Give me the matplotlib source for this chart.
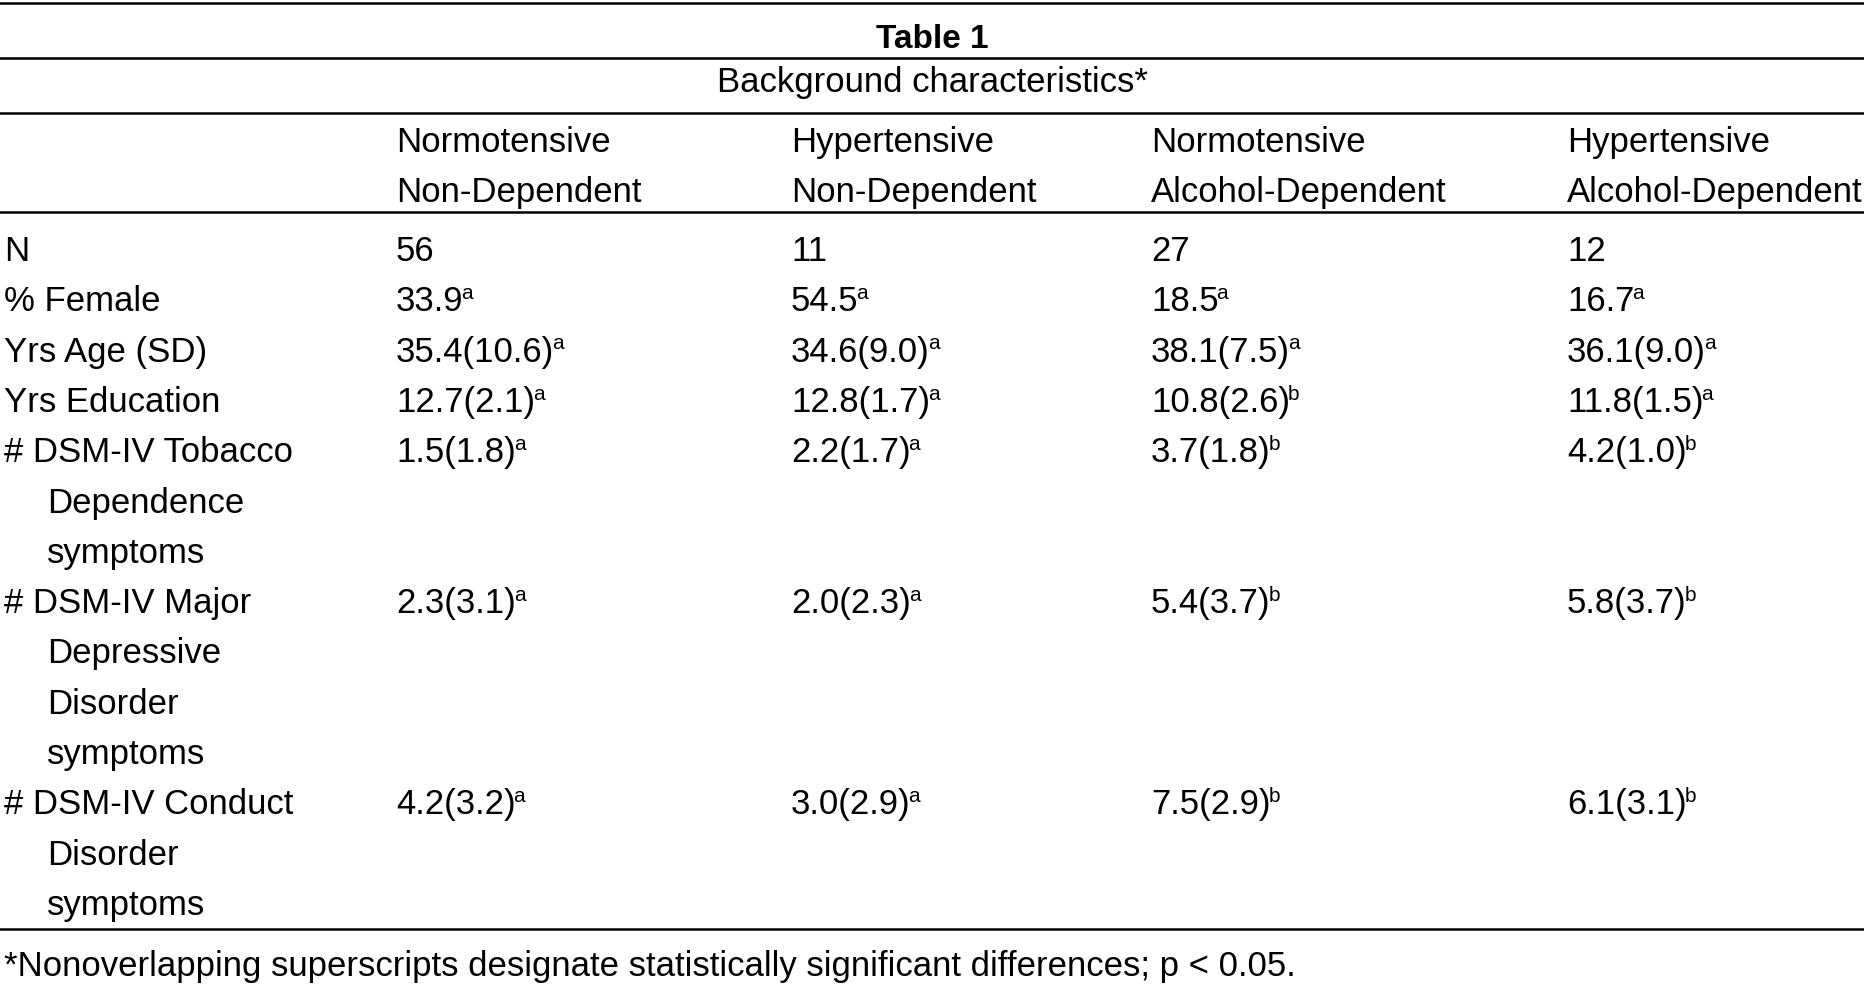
import matplotlib
matplotlib.use('Agg')
import matplotlib.pyplot as plt

plt.rcParams['font.family'] = ['Liberation Sans', 'DejaVu Sans']

# table content
title = 'Table 1'
subtitle = 'Background characteristics*'
head_top = ['Normotensive', 'Hypertensive', 'Normotensive', 'Hypertensive']
head_bottom = ['Non-Dependent', 'Non-Dependent', 'Alcohol-Dependent', 'Alcohol-Dependent']

row_labels = [['N'],
              ['% Female'],
              ['Yrs Age (SD)'],
              ['Yrs Education'],
              ['# DSM-IV Tobacco', 'Dependence', 'symptoms'],
              ['# DSM-IV Major', 'Depressive', 'Disorder', 'symptoms'],
              ['# DSM-IV Conduct', 'Disorder', 'symptoms']]

n_group = [56, 11, 27, 12]
female_pct = [33.9, 54.5, 18.5, 16.7]
female_sup = ['a', 'a', 'a', 'a']
age_mean = [35.4, 34.6, 38.1, 36.1]
age_sd = [10.6, 9.0, 7.5, 9.0]
age_sup = ['a', 'a', 'a', 'a']
edu_mean = [12.7, 12.8, 10.8, 11.8]
edu_sd = [2.1, 1.7, 2.6, 1.5]
edu_sup = ['a', 'a', 'b', 'a']
tob_mean = [1.5, 2.2, 3.7, 4.2]
tob_sd = [1.8, 1.7, 1.8, 1.0]
tob_sup = ['a', 'a', 'b', 'b']
mdd_mean = [2.3, 2.0, 5.4, 5.8]
mdd_sd = [3.1, 2.3, 3.7, 3.7]
mdd_sup = ['a', 'a', 'b', 'b']
cd_mean = [4.2, 3.0, 7.5, 6.1]
cd_sd = [3.2, 2.9, 2.9, 3.1]
cd_sup = ['a', 'a', 'b', 'b']

footnote = '*Nonoverlapping superscripts designate statistically significant differences; p < 0.05.'

W, H = 1864, 991
fig = plt.figure(figsize=(W / 100, H / 100), dpi=100)
ax = fig.add_axes([0, 0, 1, 1])
ax.set_xlim(0, W)
ax.set_ylim(H, 0)
ax.axis('off')

fs = 25
sup_fs = 15
col_x = [396, 791, 1151, 1567]
label_x = 4
indent_x = 47
row_h = 50.3
first_base = 261

# rules
for y in [3, 58, 113, 212, 929]:
    ax.axhline(y, color='black', lw=1.8)

ax.text(W / 2, 48, title, ha='center', va='baseline', fontsize=24, fontweight='bold')
ax.text(W / 2, 92, subtitle, ha='center', va='baseline', fontsize=fs)
for i in range(4):
    ax.text(col_x[i], 152, head_top[i], ha='left', va='baseline', fontsize=fs)
    ax.text(col_x[i], 202, head_bottom[i], ha='left', va='baseline', fontsize=fs)


def cell(x, y, txt, sup=None):
    t = ax.text(x, y, txt, ha='left', va='baseline', fontsize=fs)
    if sup:
        ax.annotate(sup, xy=(1, 1), xycoords=t, xytext=(-1.5, 1),
                    textcoords='offset points', ha='left', va='top', fontsize=sup_fs)


cells = [[str(v) for v in n_group],
         [f'{v:.1f}' for v in female_pct],
         [f'{m:.1f}({s:.1f})' for m, s in zip(age_mean, age_sd)],
         [f'{m:.1f}({s:.1f})' for m, s in zip(edu_mean, edu_sd)],
         [f'{m:.1f}({s:.1f})' for m, s in zip(tob_mean, tob_sd)],
         [f'{m:.1f}({s:.1f})' for m, s in zip(mdd_mean, mdd_sd)],
         [f'{m:.1f}({s:.1f})' for m, s in zip(cd_mean, cd_sd)]]
sups = [[None] * 4, female_sup, age_sup, edu_sup, tob_sup, mdd_sup, cd_sup]

line = 0
for r, labels in enumerate(row_labels):
    y0 = first_base + line * row_h
    for k, lab in enumerate(labels):
        ax.text(label_x if k == 0 else indent_x, first_base + (line + k) * row_h, lab,
                ha='left', va='baseline', fontsize=fs)
    for i in range(4):
        cell(col_x[i], y0, cells[r][i], sups[r][i])
    line += len(labels)

ax.text(label_x, 976, footnote, ha='left', va='baseline', fontsize=fs)

fig.savefig('out.png', dpi=100, facecolor='white')
